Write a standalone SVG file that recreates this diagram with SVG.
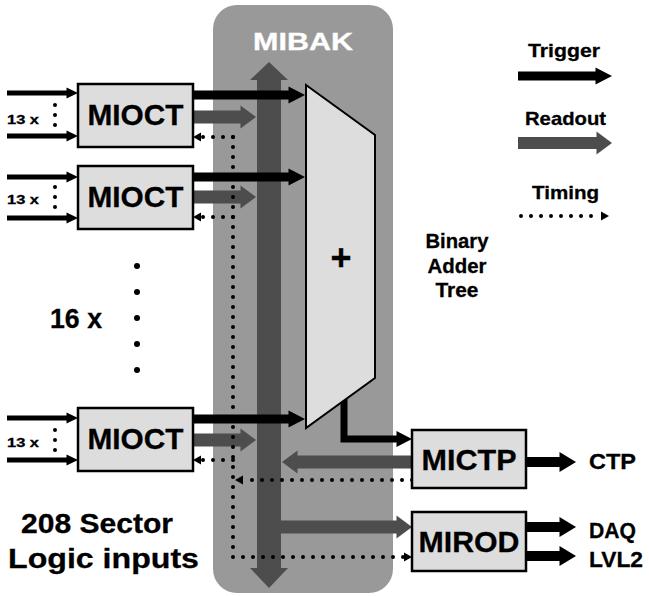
<svg xmlns="http://www.w3.org/2000/svg" width="649" height="596" viewBox="0 0 649 596">
<style>
text{font-family:"Liberation Sans",Arial,sans-serif;font-weight:bold;fill:#000;stroke:#000;stroke-width:0.3}
.box{fill:#dddddd;stroke:#000;stroke-width:2.5}
.big{font-size:30px;text-anchor:middle}
.trig{stroke:#000;stroke-width:9;fill:none}
.read{stroke:#4d4d4d;stroke-width:13;fill:none}
.inp{stroke:#000;stroke-width:5;fill:none}
.out{stroke:#000;stroke-width:10;fill:none}
.tim{stroke:#000;stroke-width:4;fill:none;stroke-dasharray:0 10;stroke-linecap:round}
.dot{fill:#000}
marker{overflow:visible}
</style>
<defs>
<marker id="mTrig" markerUnits="userSpaceOnUse" orient="auto" refX="0" refY="0" markerWidth="16" markerHeight="18"><path d="M-0.5,-8.5 L16,0 L-0.5,8.5 Z" fill="#000"/></marker>
<marker id="mRead" markerUnits="userSpaceOnUse" orient="auto" refX="0" refY="0" markerWidth="15" markerHeight="23"><path d="M-0.5,-11.5 L15,0 L-0.5,11.5 Z" fill="#4d4d4d"/></marker>
<marker id="mIn" markerUnits="userSpaceOnUse" orient="auto" refX="0" refY="0" markerWidth="11" markerHeight="11"><path d="M-0.5,-5.5 L11,0 L-0.5,5.5 Z" fill="#000"/></marker>
<marker id="mOut" markerUnits="userSpaceOnUse" orient="auto" refX="0" refY="0" markerWidth="16" markerHeight="20"><path d="M-0.5,-10 L16,0 L-0.5,10 Z" fill="#000"/></marker>
<marker id="mAdd" markerUnits="userSpaceOnUse" orient="auto" refX="0" refY="0" markerWidth="15" markerHeight="16"><path d="M-0.5,-8 L15,0 L-0.5,8 Z" fill="#000"/></marker>
<marker id="mTim" markerUnits="userSpaceOnUse" orient="auto" refX="0" refY="0" markerWidth="8" markerHeight="9"><path d="M0,-4.5 L8,0 L0,4.5 Z" fill="#000"/></marker>
</defs>

<g id="mibak">
<rect x="213" y="5" width="180" height="588" rx="24" ry="24" fill="#999999"/>
<text x="303" y="50" font-size="23" text-anchor="middle" style="fill:#fff;stroke:#fff" textLength="100" lengthAdjust="spacingAndGlyphs">MIBAK</text>
<path d="M269,62 L288,80 L281,80 L281,568 L288,568 L269,588 L250,568 L257,568 L257,80 L250,80 Z" fill="#4d4d4d"/>
</g>

<g id="connectors">
<path class="inp" d="M7,93 H67" marker-end="url(#mIn)"/>
<path class="inp" d="M7,136 H67" marker-end="url(#mIn)"/>
<path class="inp" d="M7,177 H67" marker-end="url(#mIn)"/>
<path class="inp" d="M7,218 H67" marker-end="url(#mIn)"/>
<path class="inp" d="M7,418 H67" marker-end="url(#mIn)"/>
<path class="inp" d="M7,460 H67" marker-end="url(#mIn)"/>
<path class="read" d="M193,117 H241" marker-end="url(#mRead)"/>
<path class="read" d="M193,197 H241" marker-end="url(#mRead)"/>
<path class="read" d="M193,440 H241" marker-end="url(#mRead)"/>
<path class="read" d="M412,462 H297" marker-end="url(#mRead)"/>
<path class="read" d="M281,527 H397" marker-end="url(#mRead)"/>
<path class="tim" d="M233,137 V557 H404" marker-end="url(#mTim)"/>
<path class="tim" d="M412,480 H243" marker-end="url(#mTim)"/>
<path class="tim" d="M233,137 H201" marker-end="url(#mTim)"/>
<path class="tim" d="M233,217 H201" marker-end="url(#mTim)"/>
<path class="tim" d="M233,460 H201" marker-end="url(#mTim)"/>
<path class="trig" d="M193,95 H289" marker-end="url(#mTrig)"/>
<path class="trig" d="M193,177 H289" marker-end="url(#mTrig)"/>
<path class="trig" d="M193,419 H289" marker-end="url(#mTrig)"/>
<path d="M344,390 V439 H397" stroke="#000" stroke-width="7" fill="none" stroke-linejoin="miter" marker-end="url(#mAdd)"/>
<path class="out" d="M526,462 H560" marker-end="url(#mOut)"/>
<path class="out" d="M526,527 H560" marker-end="url(#mOut)"/>
<path class="out" d="M526,556 H560" marker-end="url(#mOut)"/>
</g>

<g id="adder">
<path d="M306,85 L375,135 L375,378 L306,428 Z" fill="#dddddd" stroke="#000" stroke-width="2"/>
<text x="341" y="270" font-size="36" text-anchor="middle">+</text>
</g>

<g id="mioct1">
<rect class="box" x="78" y="84" width="115" height="63"/>
<text class="big" x="135.5" y="125" textLength="96" lengthAdjust="spacingAndGlyphs">MIOCT</text>
</g>
<g id="mioct2">
<rect class="box" x="78" y="166" width="115" height="63"/>
<text class="big" x="135.5" y="207" textLength="96" lengthAdjust="spacingAndGlyphs">MIOCT</text>
</g>
<g id="mioct3">
<rect class="box" x="78" y="408" width="115" height="63"/>
<text class="big" x="135.5" y="449" textLength="96" lengthAdjust="spacingAndGlyphs">MIOCT</text>
</g>
<g id="mictp">
<rect class="box" x="412" y="430" width="114" height="58"/>
<text class="big" x="469" y="470" textLength="95" lengthAdjust="spacingAndGlyphs">MICTP</text>
</g>
<g id="mirod">
<rect class="box" x="412" y="512" width="114" height="59"/>
<text class="big" x="469" y="552" textLength="101" lengthAdjust="spacingAndGlyphs">MIROD</text>
</g>

<g id="input-labels">
<text x="7" y="124" font-size="13" textLength="32" lengthAdjust="spacingAndGlyphs">13 x</text>
<text x="7" y="204" font-size="13" textLength="32" lengthAdjust="spacingAndGlyphs">13 x</text>
<text x="7" y="447" font-size="13" textLength="32" lengthAdjust="spacingAndGlyphs">13 x</text>
<circle class="dot" cx="55" cy="105" r="2"/><circle class="dot" cx="55" cy="115" r="2"/><circle class="dot" cx="55" cy="125" r="2"/>
<circle class="dot" cx="55" cy="187" r="2"/><circle class="dot" cx="55" cy="197" r="2"/><circle class="dot" cx="55" cy="207" r="2"/>
<circle class="dot" cx="55" cy="430" r="2"/><circle class="dot" cx="55" cy="440" r="2"/><circle class="dot" cx="55" cy="450" r="2"/>
<text x="50" y="328" font-size="28" textLength="52" lengthAdjust="spacingAndGlyphs">16 x</text>
<circle class="dot" cx="137" cy="266" r="3"/><circle class="dot" cx="137" cy="292" r="3"/><circle class="dot" cx="137" cy="318" r="3"/><circle class="dot" cx="137" cy="344" r="3"/><circle class="dot" cx="137" cy="370" r="3"/>
<text x="97" y="533" font-size="28" text-anchor="middle" textLength="152" lengthAdjust="spacingAndGlyphs">208 Sector</text>
<text x="103.5" y="568" font-size="28" text-anchor="middle" textLength="191" lengthAdjust="spacingAndGlyphs">Logic inputs</text>
</g>

<g id="adder-label">
<text x="457" y="248" font-size="20" text-anchor="middle" textLength="63" lengthAdjust="spacingAndGlyphs">Binary</text>
<text x="457" y="273" font-size="20" text-anchor="middle" textLength="59" lengthAdjust="spacingAndGlyphs">Adder</text>
<text x="457" y="297" font-size="20" text-anchor="middle" textLength="43" lengthAdjust="spacingAndGlyphs">Tree</text>
</g>

<g id="outputs">
<text x="589" y="469" font-size="22" textLength="47" lengthAdjust="spacingAndGlyphs">CTP</text>
<text x="589" y="538" font-size="22" textLength="47" lengthAdjust="spacingAndGlyphs">DAQ</text>
<text x="589" y="567" font-size="22" textLength="54" lengthAdjust="spacingAndGlyphs">LVL2</text>
</g>

<g id="legend">
<text x="564" y="57" font-size="19" text-anchor="middle" textLength="72" lengthAdjust="spacingAndGlyphs">Trigger</text>
<path class="trig" d="M518,76 H596" marker-end="url(#mTrig)"/>
<text x="565.5" y="125" font-size="19" text-anchor="middle" textLength="81" lengthAdjust="spacingAndGlyphs">Readout</text>
<path d="M518,143 H597" stroke="#4d4d4d" stroke-width="12" fill="none" marker-end="url(#mRead)"/>
<text x="565.5" y="199" font-size="19" text-anchor="middle" textLength="67" lengthAdjust="spacingAndGlyphs">Timing</text>
<path class="tim" d="M521,216 H601" marker-end="url(#mTim)"/>
</g>
</svg>
